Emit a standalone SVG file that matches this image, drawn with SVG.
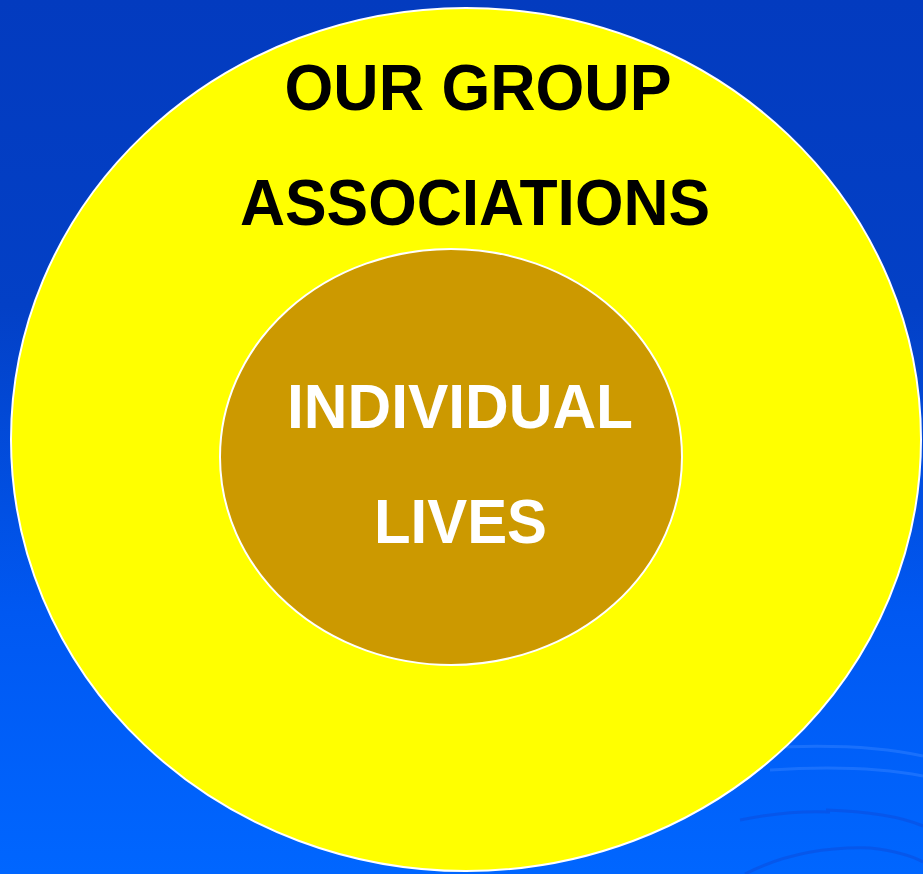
<svg xmlns="http://www.w3.org/2000/svg" width="923" height="874" viewBox="0 0 923 874">
  <defs>
    <linearGradient id="bg" x1="0" y1="0" x2="0" y2="1">
      <stop offset="0" stop-color="#033bbf"/>
      <stop offset="0.35" stop-color="#0340c6"/>
      <stop offset="0.7" stop-color="#0058f2"/>
      <stop offset="1" stop-color="#0066ff"/>
    </linearGradient>
    <style>
      .ring { stroke: #ffffff; stroke-width: 2; }
      .outerText { font-family: "Liberation Sans", Arial, sans-serif; font-weight: bold; font-size: 64px; fill: #000000; text-anchor: middle; }
      .innerText { font-family: "Liberation Sans", Arial, sans-serif; font-weight: bold; font-size: 63px; fill: #ffffff; text-anchor: middle; }
      .ripple { fill: none; stroke-width: 3; }
    </style>
  </defs>
  <rect x="0" y="0" width="923" height="874" fill="url(#bg)"/>
  <g id="ripples" opacity="0.6">
    <path class="ripple" d="M760 748 Q860 742 923 756" stroke="#2a7cff"/>
    <path class="ripple" d="M770 770 Q860 764 923 776" stroke="#2a7cff"/>
    <path class="ripple" d="M740 820 Q790 810 830 812" stroke="#0a4fe0"/>
    <path class="ripple" d="M826 810 Q890 812 923 826" stroke="#0a4fe0"/>
    <path class="ripple" d="M745 874 Q800 846 870 848 Q905 852 923 862" stroke="#0a4fe0" stroke-width="4"/>
  </g>
  <g id="outer">
    <ellipse class="ring" cx="466" cy="439.5" rx="455" ry="431.5" fill="#ffff00"/>
    <text class="outerText" x="478" y="110" textLength="387" lengthAdjust="spacingAndGlyphs">OUR GROUP</text>
    <text class="outerText" x="475" y="225" textLength="470" lengthAdjust="spacingAndGlyphs">ASSOCIATIONS</text>
  </g>
  <g id="inner">
    <ellipse class="ring" cx="451" cy="457" rx="231" ry="208" fill="#cc9900" stroke-width="1.5"/>
    <text class="innerText" x="460" y="428" textLength="346" lengthAdjust="spacingAndGlyphs">INDIVIDUAL</text>
    <text class="innerText" x="460.5" y="543" textLength="173" lengthAdjust="spacingAndGlyphs">LIVES</text>
  </g>
  <g id="connectors"/>
</svg>
